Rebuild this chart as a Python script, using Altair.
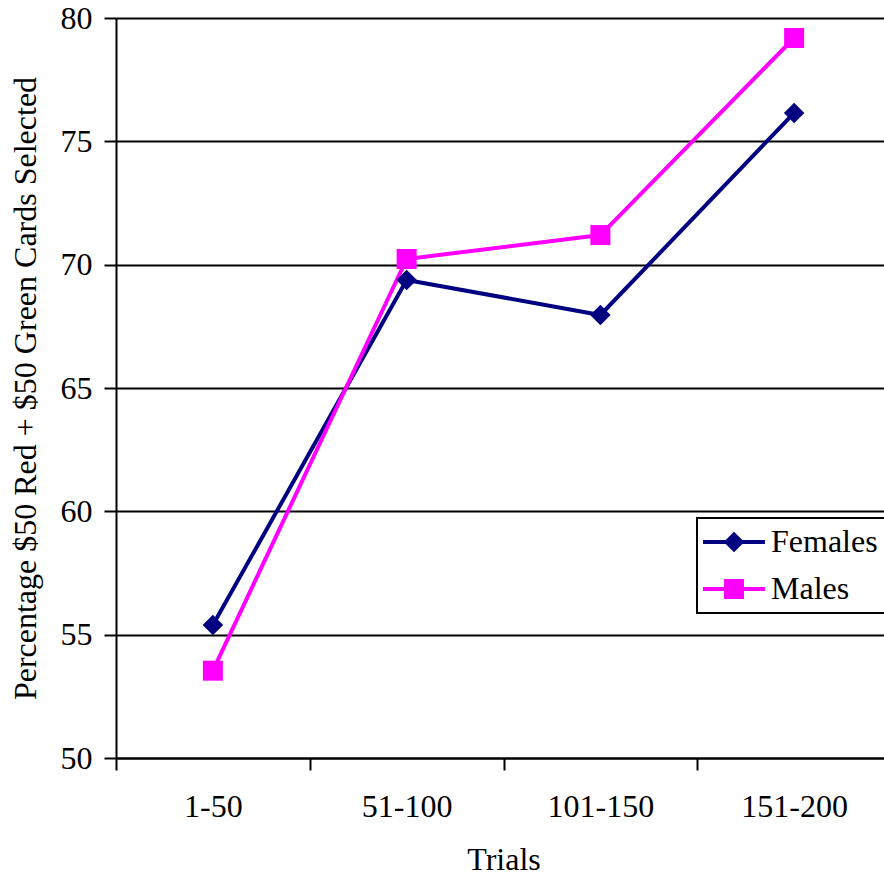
import altair as alt
import pandas as pd

trials = ["1-50", "51-100", "101-150", "151-200"]
females = [55.39, 69.38, 67.96, 76.15]
males = [53.54, 70.23, 71.2, 79.19]
series = ["Females", "Males"]
colors = ["#000080", "#FF00FF"]

rows = []
for t, f, m in zip(trials, females, males):
    rows.append({"Trials": t, "Series": "Females", "Value": f})
    rows.append({"Trials": t, "Series": "Males", "Value": m})
df = pd.DataFrame(rows)

FONT = "Liberation Serif"
FS = 32

x_enc = alt.X(
    "Trials:N",
    sort=trials,
    scale=alt.Scale(type="band", paddingInner=0, paddingOuter=0, range=[0, 775]),
    axis=alt.Axis(
        title="Trials", labelAngle=0, tickBand="extent", tickSize=12, tickWidth=2,
        tickColor="black", domainColor="black", domainWidth=2, labelPadding=21,
        labelFont=FONT, labelFontSize=FS, labelColor="black", titleFont=FONT,
        titleFontSize=FS, titleFontWeight="normal", titleColor="black",
        titlePadding=22, grid=False,
    ),
)
y_enc = alt.Y(
    "Value:Q",
    scale=alt.Scale(domain=[50, 80], nice=False, zero=False),
    axis=alt.Axis(
        title="Percentage $50 Red + $50 Green Cards Selected",
        values=[50, 55, 60, 65, 70, 75, 80], tickSize=12, tickWidth=2, tickColor="black",
        domainColor="black", domainWidth=2, labelPadding=12, labelFont=FONT,
        labelFontSize=FS, labelColor="black", titleFont=FONT, titleFontSize=FS,
        titleFontWeight="normal", titleColor="black", titlePadding=18,
        grid=True, gridColor="black", gridWidth=2, gridOpacity=1,
    ),
)
color_enc = alt.Color(
    "Series:N", scale=alt.Scale(domain=series, range=colors), legend=None
)

base = alt.Chart(df)

lines = base.mark_line(strokeWidth=4).encode(x=x_enc, y=y_enc, color=color_enc)

fem_pts = base.transform_filter(alt.datum.Series == "Females").mark_point(
    shape="diamond", filled=True, size=420, opacity=1
).encode(x=x_enc, y=y_enc, color=color_enc)

male_pts = base.transform_filter(alt.datum.Series == "Males").mark_point(
    shape="square", filled=True, size=400, opacity=1
).encode(x=x_enc, y=y_enc, color=color_enc)

path_f = "M-2.58,-0.17H2.58V0.17H-2.58Z M0,-0.86L0.86,0L0,0.86L-0.86,0Z"
path_m = "M-2.58,-0.17H2.58V0.17H-2.58Z M-0.83,-0.83H0.83V0.83H-0.83Z"

legend = alt.Legend(
    title=None, orient="none", legendX=581, legendY=500, padding=8,
    strokeColor="black", fillColor="white", symbolSize=576,
    symbolStrokeWidth=0, labelFont=FONT, labelFontSize=FS, labelColor="black",
    labelOffset=21, rowPadding=15, symbolOpacity=1, symbolOffset=13,
)

legend_layer = base.mark_point(filled=True, opacity=0).encode(
    x=x_enc, y=y_enc,
    color=alt.Color("Series:N", scale=alt.Scale(domain=series, range=colors), legend=legend),
    shape=alt.Shape("Series:N", scale=alt.Scale(domain=series, range=[path_f, path_m]), legend=legend),
)

chart = alt.layer(legend_layer, lines, fem_pts, male_pts).properties(
    width=768, height=740,
    padding={"left": 116, "top": 18, "right": 0, "bottom": 120},
    autosize=alt.AutoSizeParams(type="none"),
).configure_view(stroke=None).configure(background="white").configure_legend(strokeWidth=2)

chart.save("out.html", embed_options={"renderer": "svg", "actions": False})
